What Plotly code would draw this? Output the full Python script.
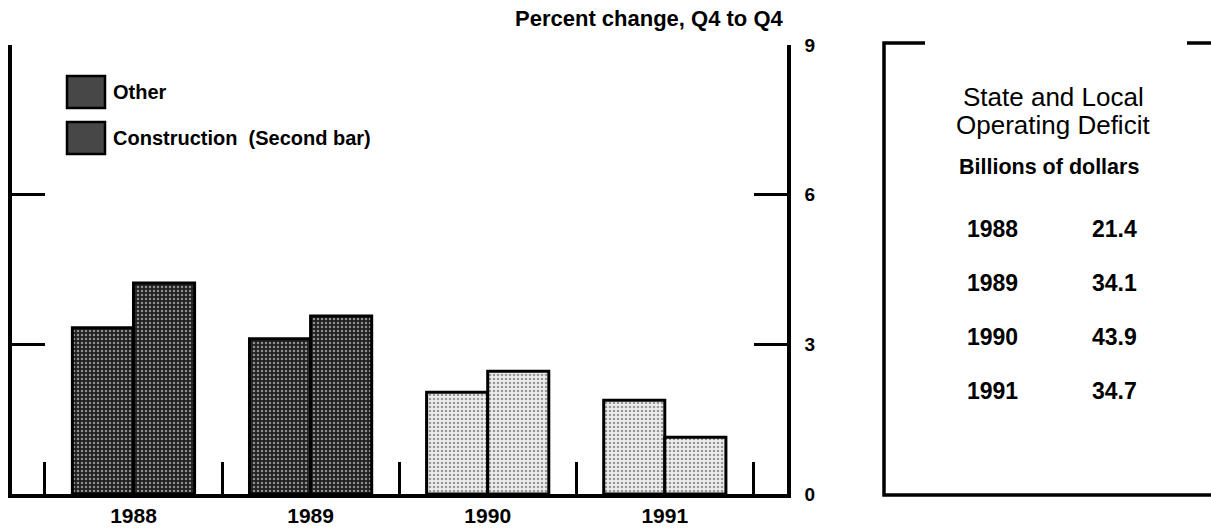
import plotly.graph_objects as go

# ---------------- data ----------------
years = ["1988", "1989", "1990", "1991"]
other = [3.33, 3.11, 2.04, 1.88]
construction = [4.23, 3.57, 2.46, 1.14]
projected = [False, False, True, True]

table_years = ["1988", "1989", "1990", "1991"]
deficit = ["21.4", "34.1", "43.9", "34.7"]

y_ticks = [0, 3, 6, 9]

# ---------------- figure ----------------
W, H = 1211, 531
FONT = "Liberation Sans, Arial, Helvetica, sans-serif"


def px(x):
    return x / W


def py(y):
    return 1 - y / H


x_pos = list(range(len(years)))
dark_bg, dark_fg = "#202020", "#a8a8a8"
light_bg, light_fg = "#eeeeee", "#777777"
bgc = [light_bg if p else dark_bg for p in projected]
fgc = [light_fg if p else dark_fg for p in projected]
solid = [0.35 if p else 0.3 for p in projected]

fig = go.Figure()
for name, vals in [("Other", other), ("Construction", construction)]:
    fig.add_trace(go.Bar(
        x=x_pos, y=vals, name=name,
        marker=dict(
            color=bgc,
            line=dict(color="black", width=3),
            pattern=dict(shape=".", fgcolor=fgc,
                         size=4, solidity=solid, fillmode="overlay"),
        ),
        showlegend=False,
        hoverinfo="x+y",
    ))

fig.update_layout(
    width=W, height=H,
    margin=dict(l=0, r=0, t=0, b=0, pad=0, autoexpand=False),
    paper_bgcolor="white", plot_bgcolor="white",
    barmode="group", bargap=0.31, bargroupgap=0,
    font=dict(family=FONT, color="black"),
    xaxis=dict(
        domain=[px(12), px(787)],
        range=[-0.686, 3.69],
        tickvals=x_pos, ticktext=years,
        ticks="", showgrid=False, zeroline=False, automargin=False,
        showline=True, linecolor="black", linewidth=3.5,
        tickfont=dict(size=21, family=FONT, weight="bold"),
        minor=dict(tickvals=[i - 0.5 for i in range(len(years) + 1)],
                   ticks="inside", ticklen=32, tickwidth=3, tickcolor="black"),
        fixedrange=True,
    ),
    yaxis=dict(
        domain=[py(494), py(45)],
        range=[0, 9],
        tickvals=y_ticks,
        side="right",
        ticks="inside", ticklen=33, tickwidth=3, tickcolor="black",
        showline=True, linecolor="black", linewidth=3.5, mirror="ticks",
        showgrid=False, zeroline=False, automargin=False,
        tickfont=dict(size=19, family=FONT, weight="bold"),
        ticklabelstandoff=10,
        fixedrange=True,
    ),
)

# axis unit title
fig.add_annotation(
    x=px(786), y=py(18), xref="paper", yref="paper",
    text="Percent change, Q4 to Q4", showarrow=False,
    xanchor="right", yanchor="middle",
    font=dict(size=22, family=FONT, weight="bold"),
)

# legend (drawn manually to match the large swatches)
legend_items = ["Other", "Construction  (Second bar)"]
for i, label in enumerate(legend_items):
    top = 76 + i * 46
    fig.add_shape(type="rect", xref="paper", yref="paper",
                  x0=px(67), x1=px(105), y0=py(top), y1=py(top + 32),
                  fillcolor="#474747", line=dict(color="black", width=2.5))
    fig.add_annotation(x=px(111), y=py(top + 16), xref="paper", yref="paper",
                       text=label, showarrow=False, xanchor="left", yanchor="middle",
                       font=dict(size=20, family=FONT, weight="bold"))

# right panel frame
line = dict(color="black", width=3.5)
fig.add_shape(type="path", xref="paper", yref="paper",
              path=f"M {px(925)},{py(43)} L {px(884)},{py(43)} L {px(884)},{py(495)} L {px(1211)},{py(495)}",
              line=line)
fig.add_shape(type="line", xref="paper", yref="paper",
              x0=px(1187), x1=px(1211), y0=py(43), y1=py(43), line=line)

# right panel text
fig.add_annotation(x=px(1053), y=py(97), xref="paper", yref="paper",
                   text="State and Local", showarrow=False,
                   xanchor="center", yanchor="middle",
                   font=dict(size=26, family=FONT))
fig.add_annotation(x=px(1053), y=py(125), xref="paper", yref="paper",
                   text="Operating Deficit", showarrow=False,
                   xanchor="center", yanchor="middle",
                   font=dict(size=26, family=FONT))
fig.add_annotation(x=px(1049), y=py(167), xref="paper", yref="paper",
                   text="Billions of dollars", showarrow=False,
                   xanchor="center", yanchor="middle",
                   font=dict(size=21.5, family=FONT, weight="bold"))
for i, (yr, val) in enumerate(zip(table_years, deficit)):
    yy = 229 + i * 54
    fig.add_annotation(x=px(992), y=py(yy), xref="paper", yref="paper",
                       text=yr, showarrow=False, xanchor="center", yanchor="middle",
                       font=dict(size=23, family=FONT, weight="bold"))
    fig.add_annotation(x=px(1114), y=py(yy), xref="paper", yref="paper",
                       text=val, showarrow=False, xanchor="center", yanchor="middle",
                       font=dict(size=23, family=FONT, weight="bold"))

fig.write_html(
    "out.html",
    config={"displayModeBar": False},
    post_script="document.body.style.margin='0';document.body.style.overflow='hidden';",
)
